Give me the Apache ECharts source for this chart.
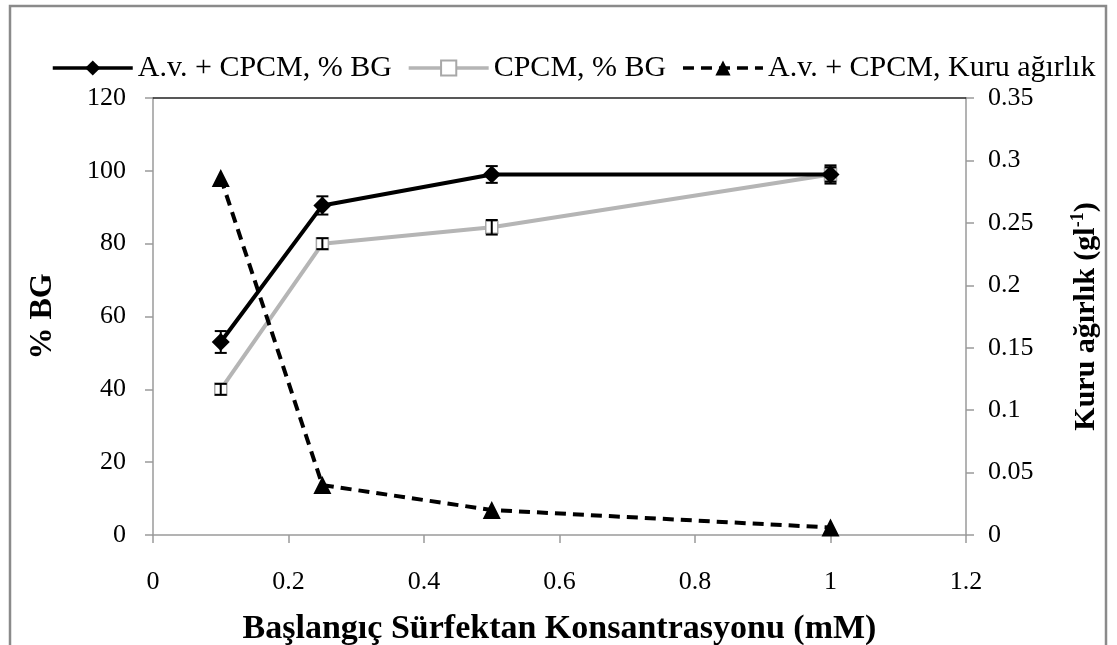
<!DOCTYPE html>
<html>
<head>
<meta charset="utf-8">
<script src="https://cdn.jsdelivr.net/npm/echarts@6/dist/echarts.min.js"></script>
<style>
  html, body { margin: 0; padding: 0; background: #fff; }
  #chart { width: 1117px; height: 645px; }
</style>
</head>
<body>
<div id="chart"></div>
<script>
// Initial surfactant concentration (mM)
const concentrations = [0.1, 0.25, 0.5, 1.0];
// Decolorization (% BG) with A.v. + CPCM and with CPCM alone
const avCpcmBG = [53, 90.5, 99, 99];
const avCpcmBGErr = [3, 2.5, 2.3, 2.5];
const cpcmBG = [40, 80, 84.5, 99];
const cpcmBGErr = [1.5, 1.5, 2, 2];
// Dry weight (g/L) with A.v. + CPCM
const dryWeight = [0.286, 0.040, 0.020, 0.006];

const seriesNames = ['A.v. + CPCM, % BG', 'CPCM, % BG', 'A.v. + CPCM, Kuru ağırlık'];
const FONT = '"Liberation Serif", "Times New Roman", serif';

function pairs(xs, ys) { return xs.map((x, i) => [x, ys[i]]); }
function errData(xs, ys, es) { return xs.map((x, i) => [x, ys[i] - es[i], ys[i] + es[i]]); }

// Vertical error bar with horizontal caps
function errorBarRender(params, api) {
  const x = api.value(0);
  const lo = api.coord([x, api.value(1)]);
  const hi = api.coord([x, api.value(2)]);
  const half = 6;
  const style = { stroke: '#000', lineWidth: 2 };
  return {
    type: 'group',
    children: [
      { type: 'line', shape: { x1: lo[0], y1: lo[1], x2: hi[0], y2: hi[1] }, style },
      { type: 'line', shape: { x1: lo[0] - half, y1: lo[1], x2: lo[0] + half, y2: lo[1] }, style },
      { type: 'line', shape: { x1: hi[0] - half, y1: hi[1], x2: hi[0] + half, y2: hi[1] }, style }
    ]
  };
}

const chart = echarts.init(document.getElementById('chart'), null, { renderer: 'canvas' });

const axisGray = '#9a9a9a';
const tickFont = { fontFamily: FONT, fontSize: 26, color: '#000' };
const noMinor = { show: false };
const tickStyle = { show: true, inside: false, length: 8, lineStyle: { color: axisGray, width: 1.5 } };

chart.setOption({
  animation: false,
  backgroundColor: '#fff',
  textStyle: { fontFamily: FONT },
  graphic: [{
    type: 'rect',
    shape: { x: 10, y: 6, width: 1096, height: 700 },
    style: { fill: 'none', stroke: '#8a8a8a', lineWidth: 2.5 },
    silent: true
  }],
  legend: {
    left: 46,
    top: 48,
    itemWidth: 80,
    itemHeight: 19,
    itemGap: 15,
    lineStyle: { width: 3.5 },
    textStyle: { fontFamily: FONT, fontSize: 30, color: '#000' },
    data: seriesNames
  },
  grid: { left: 153, right: 151, top: 98, bottom: 110, containLabel: false, outerBoundsMode: 'none' },
  xAxis: [{
    type: 'value',
    min: 0, max: 1.2, interval: 0.2,
    position: 'bottom',
    name: 'Başlangıç Sürfektan Konsantrasyonu (mM)',
    nameLocation: 'middle',
    nameGap: 77,
    nameTextStyle: { fontFamily: FONT, fontSize: 34, fontWeight: 'bold', color: '#000' },
    axisLine: { onZero: false, lineStyle: { color: axisGray, width: 1.5 } },
    axisTick: tickStyle,
    minorTick: noMinor,
    axisLabel: Object.assign({ margin: 34 }, tickFont),
    splitLine: { show: false }
  }, {
    type: 'value',
    min: 0, max: 1.2,
    position: 'top',
    axisLine: { show: true, onZero: false, lineStyle: { color: '#222', width: 1.5 } },
    axisTick: { show: false },
    minorTick: noMinor,
    axisLabel: { show: false },
    splitLine: { show: false }
  }],
  yAxis: [{
    type: 'value',
    min: 0, max: 120, interval: 20,
    position: 'left',
    name: '% BG',
    nameLocation: 'middle',
    nameRotate: 90,
    nameGap: 94,
    nameTextStyle: { fontFamily: FONT, fontSize: 32, fontWeight: 'bold', color: '#000' },
    axisLine: { show: true, onZero: false, lineStyle: { color: axisGray, width: 1.5 } },
    axisTick: tickStyle,
    minorTick: noMinor,
    axisLabel: Object.assign({ margin: 27 }, tickFont),
    splitLine: { show: false }
  }, {
    type: 'value',
    min: 0, max: 0.35, interval: 0.05,
    position: 'right',
    name: '{t|Kuru ağırlık (gl}{s|-1}{t|)}',
    nameLocation: 'middle',
    nameRotate: 90,
    nameGap: 103,
    nameTextStyle: {
      fontFamily: FONT, fontSize: 30, fontWeight: 'bold', color: '#000',
      rich: {
        t: { fontFamily: FONT, fontSize: 30, fontWeight: 'bold', color: '#000', lineHeight: 34 },
        s: { fontFamily: FONT, fontSize: 18, fontWeight: 'bold', color: '#000', verticalAlign: 'top', lineHeight: 34 }
      }
    },
    axisLine: { show: true, onZero: false, lineStyle: { color: axisGray, width: 1.5 } },
    axisTick: tickStyle,
    minorTick: noMinor,
    axisLabel: Object.assign({
      margin: 22,
      formatter: v => String(parseFloat(v.toFixed(2)))
    }, tickFont),
    splitLine: { show: false }
  }],
  series: [{
    name: seriesNames[0],
    type: 'line',
    xAxisIndex: 0, yAxisIndex: 0,
    data: pairs(concentrations, avCpcmBG),
    symbol: 'diamond',
    symbolSize: 18,
    lineStyle: { color: '#000', width: 4 },
    itemStyle: { color: '#000' },
    z: 4
  }, {
    name: seriesNames[1],
    type: 'line',
    xAxisIndex: 0, yAxisIndex: 0,
    data: pairs(concentrations, cpcmBG),
    symbol: 'rect',
    symbolSize: 12,
    showAllSymbol: true,
    lineStyle: { color: '#b5b5b5', width: 4 },
    itemStyle: { color: '#fff', borderColor: '#a8a8a8', borderWidth: 1.5 },
    z: 3
  }, {
    name: seriesNames[2],
    type: 'line',
    xAxisIndex: 0, yAxisIndex: 1,
    data: pairs(concentrations, dryWeight),
    symbol: 'triangle',
    symbolSize: 18,
    lineStyle: { color: '#000', width: 4, type: [11, 7] },
    itemStyle: { color: '#000' },
    z: 5
  }, {
    type: 'custom',
    xAxisIndex: 0, yAxisIndex: 0,
    renderItem: errorBarRender,
    data: errData(concentrations, avCpcmBG, avCpcmBGErr),
    z: 6, silent: true
  }, {
    type: 'custom',
    xAxisIndex: 0, yAxisIndex: 0,
    renderItem: errorBarRender,
    data: errData(concentrations, cpcmBG, cpcmBGErr),
    z: 6, silent: true
  }]
});
</script>
</body>
</html>
